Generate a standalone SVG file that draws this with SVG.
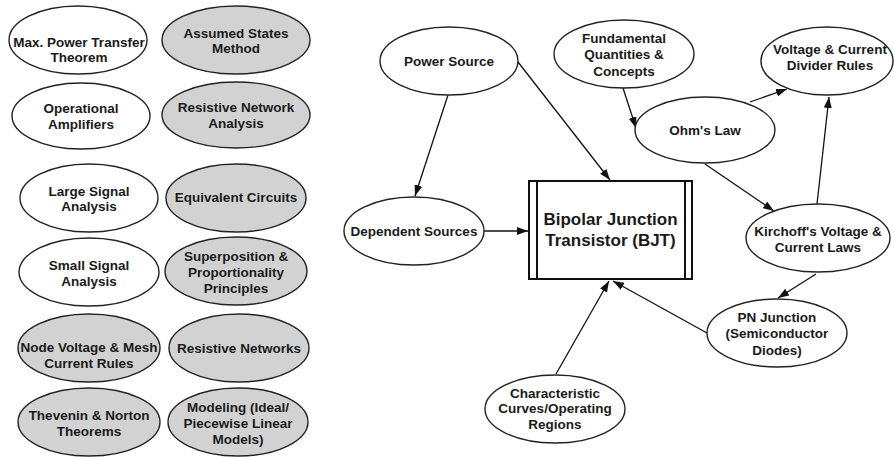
<svg xmlns="http://www.w3.org/2000/svg" width="894" height="457" viewBox="0 0 894 457">
  <defs>
    <marker id="arrow" viewBox="0 0 11 8" refX="11" refY="4" markerWidth="11" markerHeight="8" markerUnits="userSpaceOnUse" orient="auto">
      <path d="M0,0 L11,4 L0,8 Z" fill="#111"/>
    </marker>
    <style>
      .node ellipse { stroke: #222; stroke-width: 1.4; fill: #fff; }
      .node.grey ellipse { fill: #d2d2d2; }
      text { font-family: "Liberation Sans", Arial, sans-serif; font-weight: bold; font-size: 13.5px; fill: #1a1a1a; text-anchor: middle; }
      .big { font-size: 17px; }
      .edges line { stroke: #111; stroke-width: 1.3; marker-end: url(#arrow); }
      .box { fill: #fff; stroke: #111; stroke-width: 2; }
    </style>
  </defs>
  <rect width="894" height="457" fill="#fff"/>

  <!-- left column: related topics -->
  <g id="max-power" class="node"><ellipse cx="78" cy="40" rx="69" ry="34"/>
    <text x="79" y="47">Max. Power Transfer</text><text x="79" y="62">Theorem</text></g>
  <g id="assumed-states" class="node grey"><ellipse cx="236" cy="40" rx="74" ry="34"/>
    <text x="236" y="38">Assumed States</text><text x="236" y="53">Method</text></g>
  <g id="op-amps" class="node"><ellipse cx="81" cy="116" rx="69" ry="33"/>
    <text x="81" y="113">Operational</text><text x="81" y="129">Amplifiers</text></g>
  <g id="resistive-analysis" class="node grey"><ellipse cx="236" cy="115" rx="74" ry="33"/>
    <text x="236" y="112">Resistive Network</text><text x="236" y="128">Analysis</text></g>
  <g id="large-signal" class="node"><ellipse cx="89" cy="198" rx="69" ry="34"/>
    <text x="89" y="196">Large Signal</text><text x="89" y="211">Analysis</text></g>
  <g id="equivalent-circuits" class="node grey"><ellipse cx="236" cy="198" rx="70" ry="34"/>
    <text x="236" y="202">Equivalent Circuits</text></g>
  <g id="small-signal" class="node"><ellipse cx="89" cy="272" rx="70" ry="34"/>
    <text x="89" y="270">Small Signal</text><text x="89" y="286">Analysis</text></g>
  <g id="superposition" class="node grey"><ellipse cx="236" cy="271" rx="71" ry="34"/>
    <text x="236" y="261">Superposition &amp;</text><text x="236" y="277">Proportionality</text><text x="236" y="293">Principles</text></g>
  <g id="node-mesh" class="node grey"><ellipse cx="89" cy="348" rx="71" ry="34"/>
    <text x="89" y="352">Node Voltage &amp; Mesh</text><text x="89" y="368">Current Rules</text></g>
  <g id="resistive-networks" class="node grey"><ellipse cx="239" cy="348" rx="70" ry="34"/>
    <text x="239" y="353">Resistive Networks</text></g>
  <g id="thevenin-norton" class="node grey"><ellipse cx="89" cy="422" rx="71" ry="34"/>
    <text x="89" y="420">Thevenin &amp; Norton</text><text x="89" y="436">Theorems</text></g>
  <g id="modeling" class="node grey"><ellipse cx="238" cy="422" rx="70" ry="34"/>
    <text x="238" y="412">Modeling  (Ideal/</text><text x="238" y="428">Piecewise Linear</text><text x="238" y="444">Models)</text></g>

  <!-- connectors -->
  <g id="edges" class="edges">
    <line x1="448" y1="95" x2="415" y2="196"/>
    <line x1="518" y1="62" x2="610" y2="180"/>
    <line x1="484" y1="231" x2="528" y2="231"/>
    <line x1="623" y1="88" x2="636" y2="128"/>
    <line x1="750" y1="102" x2="787" y2="89"/>
    <line x1="705" y1="164" x2="774" y2="211"/>
    <line x1="817" y1="204" x2="829" y2="97"/>
    <line x1="816" y1="274" x2="778" y2="298"/>
    <line x1="707" y1="333" x2="613" y2="281"/>
    <line x1="556" y1="374" x2="609" y2="281"/>
  </g>

  <!-- concept map -->
  <g id="bjt">
    <rect class="box" x="529" y="181" width="163" height="98"/>
    <line x1="537" y1="181" x2="537" y2="279" stroke="#111" stroke-width="2"/>
    <line x1="685" y1="181" x2="685" y2="279" stroke="#111" stroke-width="2"/>
    <text class="big" x="610.5" y="225">Bipolar Junction</text>
    <text class="big" x="610.5" y="246">Transistor (BJT)</text>
  </g>
  <g id="power-source" class="node"><ellipse cx="449" cy="61" rx="69" ry="34"/>
    <text x="449" y="66">Power Source</text></g>
  <g id="fundamentals" class="node"><ellipse cx="624" cy="54" rx="70" ry="34"/>
    <text x="624" y="43">Fundamental</text><text x="624" y="59">Quantities &amp;</text><text x="624" y="76">Concepts</text></g>
  <g id="divider-rules" class="node"><ellipse cx="827" cy="61" rx="66" ry="34"/>
    <text x="830" y="54">Voltage &amp; Current</text><text x="830" y="70">Divider Rules</text></g>
  <g id="ohms-law" class="node"><ellipse cx="705" cy="130" rx="70" ry="33"/>
    <text x="705" y="135">Ohm's Law</text></g>
  <g id="dependent-sources" class="node"><ellipse cx="414" cy="231" rx="70" ry="34"/>
    <text x="414" y="236">Dependent Sources</text></g>
  <g id="kirchoff" class="node"><ellipse cx="818" cy="238" rx="72" ry="34"/>
    <text x="818" y="236">Kirchoff's Voltage &amp;</text><text x="818" y="252">Current Laws</text></g>
  <g id="pn-junction" class="node"><ellipse cx="777" cy="333" rx="70" ry="34"/>
    <text x="777" y="322">PN Junction</text><text x="777" y="338">(Semiconductor</text><text x="777" y="355">Diodes)</text></g>
  <g id="characteristic" class="node"><ellipse cx="555" cy="409" rx="70" ry="34"/>
    <text x="555" y="398">Characteristic</text><text x="555" y="413">Curves/Operating</text><text x="555" y="429">Regions</text></g>
</svg>
